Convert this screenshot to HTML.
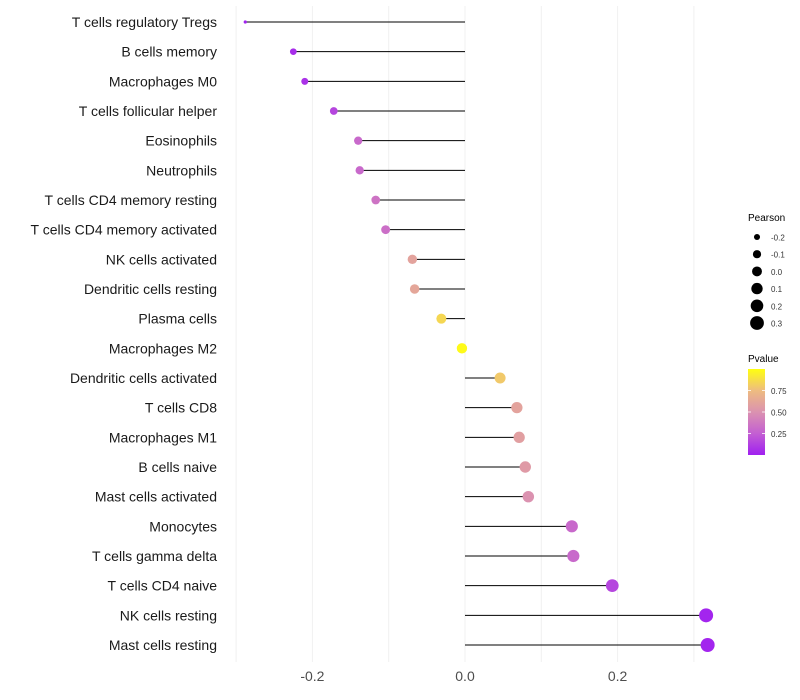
<!DOCTYPE html>
<html><head><meta charset="utf-8">
<style>
body{margin:0;background:#fff;font-family:"Liberation Sans",sans-serif;}
svg{display:block}
</style></head>
<body>
<svg id="chart" width="800" height="700">
<defs>
<linearGradient id="pgrad" x1="0" y1="1" x2="0" y2="0">
<stop offset="0" stop-color="#A020F0"/>
<stop offset="0.25" stop-color="#C35FD2"/>
<stop offset="0.5" stop-color="#DB92B0"/>
<stop offset="0.75" stop-color="#EEBC80"/>
<stop offset="1" stop-color="#FFFF10"/>
</linearGradient>
</defs>
<g id="grid"></g><g id="marks"></g><g id="labels"></g>
<g id="legend"></g>
</svg>
<script>
const categories=["T cells regulatory  Tregs","B cells memory","Macrophages M0","T cells follicular helper","Eosinophils","Neutrophils","T cells CD4 memory resting","T cells CD4 memory activated","NK cells activated","Dendritic cells resting","Plasma cells","Macrophages M2","Dendritic cells activated","T cells CD8","Macrophages M1","B cells naive","Mast cells activated","Monocytes","T cells gamma delta","T cells CD4 naive","NK cells resting","Mast cells resting"];
const pearson=[-0.288,-0.225,-0.21,-0.172,-0.140,-0.138,-0.117,-0.104,-0.069,-0.066,-0.031,-0.004,0.046,0.068,0.071,0.079,0.083,0.140,0.142,0.193,0.316,0.318];
const pvalue=[0.01,0.05,0.07,0.15,0.3,0.3,0.35,0.33,0.6,0.62,0.85,0.98,0.8,0.6,0.58,0.55,0.5,0.3,0.3,0.15,0.02,0.02];
const xTicks=[-0.2,0.0,0.2];
const xTickLabels=["-0.2","0.0","0.2"];
const xGrid=[-0.3,-0.2,-0.1,0,0.1,0.2,0.3];
const legendVals=[-0.2,-0.1,0.0,0.1,0.2,0.3];
const legendLabels=["-0.2","-0.1","0.0","0.1","0.2","0.3"];
const pTicks=[0.25,0.5,0.75];
const pTickLabels=["0.25","0.50","0.75"];

const NS="http://www.w3.org/2000/svg";
const x=v=>465+v*763;
const y=i=>22+i*(645-22)/(categories.length-1);
const r=p=>p<-0.26?1.6:Math.sqrt(Math.max(2.25,27+70*p));
const stops=[[0,[160,32,240]],[0.25,[195,95,210]],[0.5,[219,146,176]],[0.75,[238,188,128]],[1,[255,255,16]]];
function col(p){for(let k=1;k<stops.length;k++){if(p<=stops[k][0]){const a=stops[k-1],b=stops[k];const t=(p-a[0])/(b[0]-a[0]);return "rgb("+a[1].map((c,j)=>Math.round(c+(b[1][j]-c)*t)).join(",")+")";}}return "rgb(255,255,16)";}
function mk(tag,attrs,parent){const e=document.createElementNS(NS,tag);for(const k in attrs)e.setAttribute(k,attrs[k]);parent.appendChild(e);return e;}
const grid=document.getElementById('grid'),marks=document.getElementById('marks'),labels=document.getElementById('labels'),leg=document.getElementById('legend');
xGrid.forEach(v=>{const l=mk('line',{x1:x(v),x2:x(v),y1:6,y2:662,stroke:'#f0f0f0','stroke-width':1},grid);

});
xTicks.forEach((v,i)=>{const t=mk('text',{x:x(v),y:681,'text-anchor':'middle','font-size':14,fill:'#4d4d4d'},labels);t.textContent=xTickLabels[i];

});
categories.forEach((c,i)=>{
const t=mk('text',{x:217,y:y(i)+5,'text-anchor':'end','font-size':14,fill:'#1a1a1a'},labels);t.textContent=c;


const l=mk('line',{x1:x(0),x2:x(pearson[i]),y1:y(i),y2:y(i),stroke:'#000','stroke-width':1},marks);


const d=mk('circle',{cx:x(pearson[i]),cy:y(i),r:r(pearson[i]),fill:col(pvalue[i])},marks);


});
let t=mk('text',{x:748,y:221,'font-size':10,fill:'#000'},leg);t.textContent="Pearson";


legendVals.forEach((v,i)=>{const cy=237+i*17.2;
const c=mk('circle',{cx:757,cy:cy,r:Math.sqrt(24.5+76.6*v),fill:'#000'},leg);


const tt=mk('text',{x:771,y:cy+3.5,'font-size':8,fill:'#333'},leg);tt.textContent=legendLabels[i];

});
t=mk('text',{x:748,y:362,'font-size':10,fill:'#000'},leg);t.textContent="Pvalue";


const bar=mk('rect',{x:748,y:369,width:17,height:86,fill:'url(#pgrad)'},leg);


const py=p=>455-p*86;
pTicks.forEach((p,i)=>{
const l1=mk('line',{x1:748,x2:751,y1:py(p),y2:py(p),stroke:'#fff','stroke-width':0.8},leg);


const l2=mk('line',{x1:762,x2:765,y1:py(p),y2:py(p),stroke:'#fff','stroke-width':0.8},leg);


const tt=mk('text',{x:771,y:py(p)+3.5,'font-size':8,fill:'#333'},leg);tt.textContent=pTickLabels[i];

});
</script>
</body></html>
